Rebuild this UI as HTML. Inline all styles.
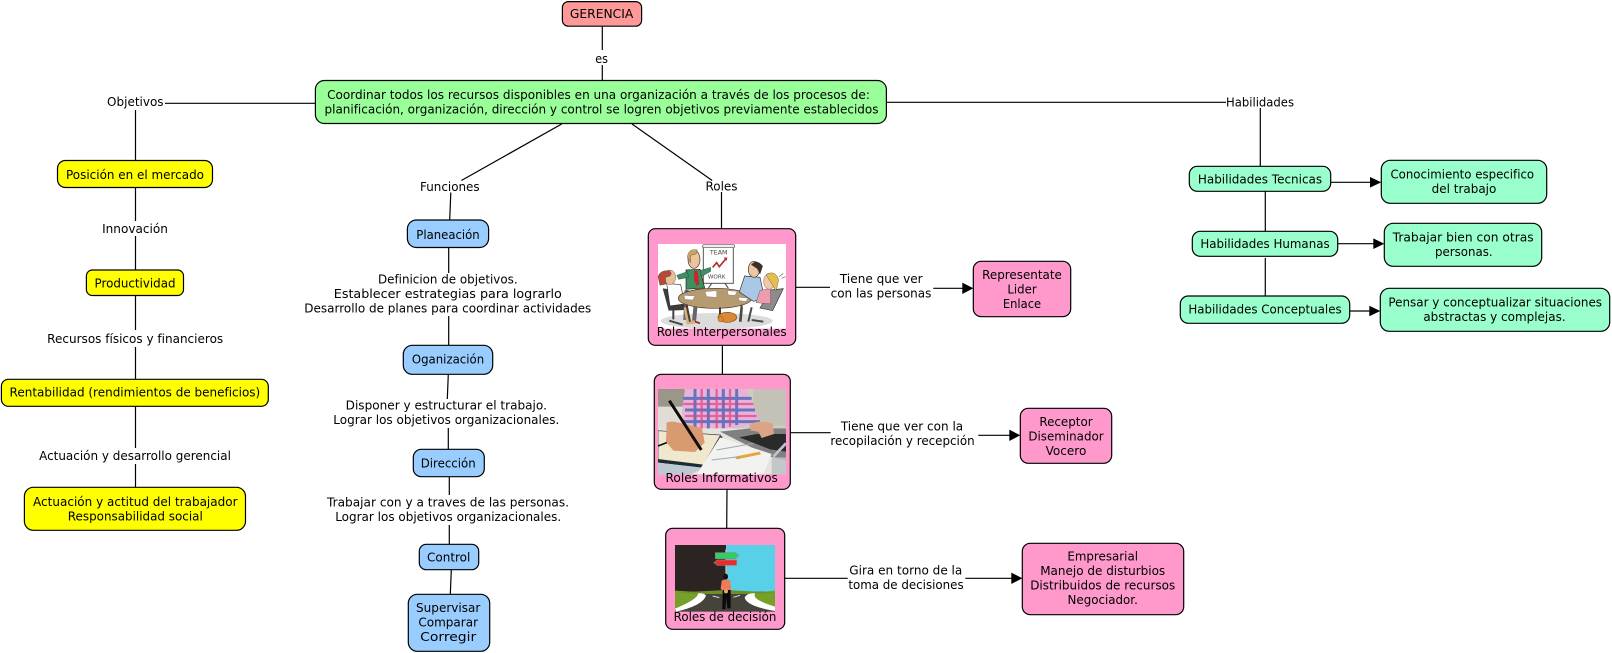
<!DOCTYPE html>
<html lang="es">
<head>
<meta charset="utf-8">
<title>Gerencia</title>
<style>
html,body{margin:0;padding:0;background:#fff;width:1612px;height:653px;overflow:hidden}
svg{display:block}
text{font-family:"DejaVu Sans","Liberation Sans",sans-serif;font-size:12px;fill:#000;text-anchor:middle}
.n{stroke:#000;stroke-width:1.2}
.l{stroke:#000;stroke-width:1.2;fill:none}
.h{fill:#000;stroke:none}
</style>
</head>
<body>
<svg width="1612" height="653" viewBox="0 0 1612 653" xmlns="http://www.w3.org/2000/svg">
<defs><filter id="b"><feGaussianBlur stdDeviation="0.9"/></filter></defs>
<rect width="1612" height="653" fill="#fff"/>

<!-- connectors -->
<g class="l">
<path d="M602.3 26V50M602.3 65V80.5"/>
<path d="M315.4 103.3H165M135.5 110V160.5M135.5 187.5V221M135.5 236V270M135.5 295.5V330M135.5 347V379.3M135.5 406.3V448M135.5 464V487.3"/>
<path d="M561.7 124L461.4 180.5M450.8 192.5L449.7 220M448.7 247.5V273M448.7 316V345.3M448.3 374.3L447.3 399M448.3 428V449.3M449.3 476.7V495M449.3 525V544.3M451.3 569.7L450.3 594.3"/>
<path d="M632 124L712.2 180.5M721.5 192V228.7M722.4 345.3V374.3M727 489.3L726.7 528.3"/>
<path d="M795.7 287.3H830M933.3 288.3H963M790.3 432.7H830.7M978.3 435.3H1010M784.7 578.3H847.7M965.3 578.3H1012"/>
<path d="M886.4 102.3H1226M1260.3 108V166.3M1265.3 191.3V231.3M1265.3 258V296M1330.7 182.3H1371M1337.7 243.7H1374M1349.7 311H1370"/>
</g>
<g class="h">
<path d="M962.3 282.6L973.3 288.3L962.3 294Z"/>
<path d="M1009.3 429.6L1020.3 435.3L1009.3 441Z"/>
<path d="M1011.3 572.6L1022.3 578.3L1011.3 584Z"/>
<path d="M1370 177L1381.3 182.3L1370 187.6Z"/>
<path d="M1373.3 238.4L1384.3 243.7L1373.3 249Z"/>
<path d="M1369.3 305.7L1380.3 311L1369.3 316.3Z"/>
</g>

<!-- nodes -->
<rect class="n" x="562.4" y="1.6" width="79.2" height="24.6" rx="6" fill="#ff9999"/>
<rect class="n" x="315.4" y="80.5" width="571" height="43" rx="9" fill="#99ff99"/>
<g fill="#ffff00">
<rect class="n" x="57.5" y="160.5" width="155" height="27" rx="8"/>
<rect class="n" x="86.4" y="270" width="97.1" height="25.5" rx="6"/>
<rect class="n" x="1.4" y="379.3" width="266.9" height="27" rx="7"/>
<rect class="n" x="24.4" y="487.3" width="221.1" height="43" rx="9"/>
</g>
<g fill="#99ccff">
<rect class="n" x="407.4" y="220" width="81.2" height="27.5" rx="9"/>
<rect class="n" x="403.3" y="345.3" width="89.4" height="29" rx="9"/>
<rect class="n" x="413.3" y="449.3" width="71" height="27.4" rx="8"/>
<rect class="n" x="419.3" y="544.3" width="59.4" height="25.4" rx="7"/>
<rect class="n" x="408.3" y="594.3" width="81.4" height="57" rx="9"/>
</g>
<g fill="#ff99cc">
<rect class="n" x="648.3" y="228.7" width="147.4" height="116.6" rx="7"/>
<rect class="n" x="654.3" y="374.3" width="136" height="115" rx="7"/>
<rect class="n" x="665.7" y="528.3" width="119" height="101" rx="7"/>
<rect class="n" x="973.3" y="261.3" width="97.4" height="55.4" rx="8"/>
<rect class="n" x="1020.3" y="408.3" width="91.4" height="55" rx="8"/>
<rect class="n" x="1022.3" y="543.3" width="161.4" height="71.4" rx="8"/>
</g>
<g fill="#99ffcc">
<rect class="n" x="1189.3" y="166.3" width="141.4" height="25" rx="8"/>
<rect class="n" x="1192.3" y="231.3" width="145.4" height="25" rx="8"/>
<rect class="n" x="1180.3" y="296" width="169.4" height="27.3" rx="8"/>
<rect class="n" x="1381.3" y="160.3" width="165.4" height="43" rx="9"/>
<rect class="n" x="1384.3" y="223.3" width="157.4" height="43" rx="9"/>
<rect class="n" x="1380.3" y="288.3" width="229.4" height="43" rx="9"/>
</g>

<!-- image 1: team meeting -->
<g transform="translate(620 220) scale(.3333)">
<rect x="114" y="72" width="384" height="254" fill="#fff"/>
<g>
<ellipse cx="290" cy="303" rx="168" ry="24" fill="#dcdcdc"/>
<rect x="250" y="82" width="90" height="108" fill="#fff" stroke="#555" stroke-width="3"/>
<rect x="248" y="74" width="96" height="9" rx="4" fill="#eee" stroke="#555" stroke-width="2"/>
<path d="M275 190L265 205M315 190L325 205" stroke="#444" stroke-width="3"/>
<path d="M278 142L290 128L298 140L318 116" stroke="#b03030" stroke-width="5" fill="none"/>
<path d="M311 113L322 112L320 123Z" fill="#b03030"/>
<text x="296" y="104" style="font-size:19px;fill:#444">TEAM</text>
<text x="290" y="175" style="font-size:17px;fill:#444">WORK</text>
<!-- presenter -->
<path d="M198 150L240 148L254 204L198 208Z" fill="#3f9060" stroke="#222" stroke-width="2"/>
<path d="M222 152L233 152L238 192L230 198L222 180Z" fill="#c02a30"/>
<path d="M240 152L272 142L272 154L244 170Z" fill="#3f9060" stroke="#222"/>
<path d="M202 155L170 166L176 178L206 172Z" fill="#3f9060" stroke="#222"/>
<ellipse cx="222" cy="118" rx="18" ry="27" fill="#eec49a" stroke="#333" stroke-width="2"/>
<path d="M202 112Q205 84 232 90L228 102L212 106L212 128Z" fill="#c9a560" stroke="#333"/>
<path d="M200 210L196 300M232 205L222 305" stroke="#666" stroke-width="12"/>
<path d="M222 304L240 310" stroke="#a02020" stroke-width="5"/>
<!-- woman left -->
<path d="M128 205L180 212L196 270L146 272Z" fill="#3c3c3c"/>
<path d="M140 190L182 194L194 252L150 258Z" fill="#fff" stroke="#333" stroke-width="2"/>
<ellipse cx="150" cy="172" rx="17" ry="22" fill="#e9bd95" stroke="#333"/>
<path d="M114 170Q120 150 148 152Q158 160 150 168L136 172L138 192L120 196Z" fill="#b8483a" stroke="#333"/>
<path d="M160 270L160 298M148 302L188 314" stroke="#444" stroke-width="6"/>
<path d="M196 262L204 308L225 306" stroke="#d8b080" stroke-width="10" fill="none"/>
<!-- table -->
<ellipse cx="285" cy="235" rx="110" ry="30" fill="#b79b70" stroke="#4a3a28" stroke-width="2"/>
<path d="M200 255L210 305M365 255L360 305M300 262L300 290" stroke="#4a3a28" stroke-width="6"/>
<path d="M192 226L225 228L218 240L195 238ZM255 215L290 212L290 232L260 230ZM322 212L352 214L345 226L325 225ZM355 232L384 234L378 244L358 242Z" fill="#fff" stroke="#666"/>
<!-- man right -->
<path d="M374 168L420 172L434 236L400 244L358 216Z" fill="#a8c8e6" stroke="#333" stroke-width="2"/>
<ellipse cx="402" cy="148" rx="17" ry="24" fill="#edc6a2" stroke="#333" stroke-width="2"/>
<path d="M394 134Q410 116 428 138L420 162L412 146Z" fill="#3a3028" stroke="#222"/>
<!-- woman right -->
<path d="M452 210L490 206L458 272L420 264Z" fill="#8c8c8c" stroke="#333" stroke-width="2"/>
<path d="M420 212L452 204L452 252L408 248Z" fill="#ee9bb0" stroke="#333"/>
<ellipse cx="448" cy="184" rx="17" ry="24" fill="#efc9a8" stroke="#333"/>
<path d="M438 164Q466 148 476 180L468 214L456 192Z" fill="#e3bf4e" stroke="#333"/>
<path d="M366 262L362 305M395 262L385 305M395 300L430 305" stroke="#4a4a4a" stroke-width="6"/>
<path d="M478 170L490 160M485 175L497 170" stroke="#666" stroke-width="2"/>
<!-- cat -->
<ellipse cx="322" cy="292" rx="28" ry="15" fill="#d98a34" stroke="#7a3f10" stroke-width="2"/>
<circle cx="302" cy="298" r="8" fill="#d98a34" stroke="#7a3f10"/>
</g>
</g>

<!-- image 2: laptop and notes -->
<g transform="translate(640 360) scale(.3333)">
<svg x="54" y="87" width="384" height="256" viewBox="54 87 384 256">
<g filter="url(#b)">
<rect x="54" y="87" width="384" height="256" fill="#cfccc2"/>
<rect x="54" y="87" width="80" height="60" fill="#9a968a"/>
<rect x="54" y="140" width="90" height="70" fill="#dfddd4"/>
<rect x="340" y="87" width="98" height="110" fill="#c4c1b6"/>
<path d="M135 87H320L360 185L250 215H140L125 160Z" fill="#e6b4d6"/>
<g stroke="#4a64b8" stroke-width="9" opacity=".8">
<path d="M165 87V205M205 87V210M250 87V205M290 87V195M130 115H335M135 150H345M130 185H360"/>
</g>
<g stroke="#e04088" stroke-width="7" opacity=".7">
<path d="M185 87V210M230 87V210M270 87V200M130 132H340M135 168H350"/>
</g>
<path d="M54 205H438V343H54Z" fill="#e4e3dd"/>
<path d="M54 212L242 225L190 315L54 298Z" fill="#efe8cc" stroke="#333" stroke-width="2"/>
<path d="M54 298L190 315L240 228L248 230L195 324L54 308Z" fill="#1f2a34"/>
<path d="M54 308L195 324L150 343H54Z" fill="#bcc8d2"/>
<path d="M54 258L88 245" stroke="#111" stroke-width="5"/>
<path d="M80 188Q95 180 132 192L186 204L194 248L165 276L100 272L78 245Z" fill="#d99a72"/>
<path d="M88 122L184 270" stroke="#111" stroke-width="9"/>
<path d="M240 215L330 205L438 205V300L390 290Z" fill="#808080"/>
<path d="M298 232L350 222L438 222V275L390 268Z" fill="#2c2c2c"/>
<path d="M240 232L395 282L370 343H170Z" fill="#f2f2f0"/>
<path d="M285 290L360 275L362 283L290 298Z" fill="#e6a63a"/>
<path d="M230 270L340 250M215 300L300 290" stroke="#98a8bc" stroke-width="3"/>
<path d="M328 195Q350 178 398 190L402 222L365 234L355 215L333 212Z" fill="#dba585"/>
<path d="M400 290L438 250" stroke="#bcc4cc" stroke-width="8"/>
<path d="M395 292H438V343H395Z" fill="#bcbfc2" opacity=".8"/>
</g>
</svg>
</g>

<!-- image 3: crossroads -->
<g transform="translate(640 510) scale(.3333)">
<rect x="105" y="105" width="153" height="142" fill="#2b2422"/>
<rect x="258" y="105" width="147" height="142" fill="#58d0e8"/>
<rect x="105" y="245" width="300" height="60" fill="#45433a"/>
<path d="M105 242L200 248L150 285L105 298Z" fill="#77a028"/>
<path d="M405 242L320 250L360 282L405 296Z" fill="#77a028"/>
<path d="M105 248L258 240L405 248L340 252H180Z" fill="#6d8f2a"/>
<path d="M108 305Q190 286 198 256Q190 248 174 250Q176 266 105 296Z" fill="#fff"/>
<path d="M405 303Q318 288 314 262Q322 248 346 250Q332 268 405 290Z" fill="#fff"/>
<path d="M218 258L238 263M280 262L300 256" stroke="#ddd" stroke-width="3"/>
<rect x="256" y="118" width="5" height="90" fill="#bbb"/>
<path d="M226 128H286L296 137L286 146H226Z" fill="#2fd060" stroke="#888" stroke-width="2"/>
<path d="M232 150H290V166H232L222 158Z" fill="#ee2a2a" stroke="#888" stroke-width="2"/>
<ellipse cx="257" cy="200" rx="7" ry="9" fill="#111"/>
<path d="M245 212Q257 204 270 212L274 240L262 246H250L242 236Z" fill="#ef7a5c"/>
<path d="M248 240H272L272 295H262L259 262L256 298H247Z" fill="#0a0a0a"/>
<circle cx="258" cy="244" r="6" fill="#e8a878"/>
</g>

<!-- labels -->
<text x="601.6" y="18" textLength="63.4" lengthAdjust="spacingAndGlyphs">GERENCIA</text>
<text x="601.6" y="63" textLength="12.7" lengthAdjust="spacingAndGlyphs">es</text>
<text x="598.5" y="99" textLength="542.8" lengthAdjust="spacingAndGlyphs">Coordinar todos los recursos disponibles en una organización a través de los procesos de:</text>
<text x="601.5" y="113.5" textLength="554" lengthAdjust="spacingAndGlyphs">planificación, organización, dirección y control se logren objetivos previamente establecidos</text>

<text x="135.3" y="106" textLength="56.5" lengthAdjust="spacingAndGlyphs">Objetivos</text>
<text x="135" y="179" textLength="138" lengthAdjust="spacingAndGlyphs">Posición en el mercado</text>
<text x="135" y="233" textLength="65.8" lengthAdjust="spacingAndGlyphs">Innovación</text>
<text x="135" y="287.5" textLength="81" lengthAdjust="spacingAndGlyphs">Productividad</text>
<text x="135.2" y="343" textLength="176" lengthAdjust="spacingAndGlyphs">Recursos físicos y financieros</text>
<text x="134.9" y="396.5" textLength="250.7" lengthAdjust="spacingAndGlyphs">Rentabilidad (rendimientos de beneficios)</text>
<text x="135" y="460" textLength="191.8" lengthAdjust="spacingAndGlyphs">Actuación y desarrollo gerencial</text>
<text x="135.3" y="506" textLength="204.5" lengthAdjust="spacingAndGlyphs">Actuación y actitud del trabajador</text>
<text x="135.3" y="520.5" textLength="135" lengthAdjust="spacingAndGlyphs">Responsabilidad social</text>

<text x="449.8" y="191" textLength="59.6" lengthAdjust="spacingAndGlyphs">Funciones</text>
<text x="448" y="239" textLength="63.4" lengthAdjust="spacingAndGlyphs">Planeación</text>
<text x="447.8" y="283.5" textLength="139.6" lengthAdjust="spacingAndGlyphs">Definicion de objetivos.</text>
<text x="447.8" y="298" textLength="228" lengthAdjust="spacingAndGlyphs">Establecer estrategias para lograrlo</text>
<text x="447.8" y="312.5" textLength="287" lengthAdjust="spacingAndGlyphs">Desarrollo de planes para coordinar actividades</text>
<text x="448" y="363.5" textLength="72.3" lengthAdjust="spacingAndGlyphs">Oganización</text>
<text x="446.3" y="409.5" textLength="201.3" lengthAdjust="spacingAndGlyphs">Disponer y estructurar el trabajo.</text>
<text x="446.3" y="424" textLength="226" lengthAdjust="spacingAndGlyphs">Lograr los objetivos organizacionales.</text>
<text x="448.2" y="467.5" textLength="55" lengthAdjust="spacingAndGlyphs">Dirección</text>
<text x="448" y="506.5" textLength="242" lengthAdjust="spacingAndGlyphs">Trabajar con y a traves de las personas.</text>
<text x="448.2" y="521" textLength="226" lengthAdjust="spacingAndGlyphs">Lograr los objetivos organizacionales.</text>
<text x="448.7" y="561.5" textLength="43.3" lengthAdjust="spacingAndGlyphs">Control</text>
<text x="448.2" y="612" textLength="64.3" lengthAdjust="spacingAndGlyphs">Supervisar</text>
<text x="448.2" y="626.5" textLength="59.7" lengthAdjust="spacingAndGlyphs">Comparar</text>
<text x="448.2" y="641" textLength="56" lengthAdjust="spacingAndGlyphs">Corregir</text>

<text x="721.5" y="190.5" textLength="32" lengthAdjust="spacingAndGlyphs">Roles</text>
<text x="721.7" y="336" textLength="130" lengthAdjust="spacingAndGlyphs">Roles Interpersonales</text>
<text x="721.7" y="482" textLength="112.3" lengthAdjust="spacingAndGlyphs">Roles Informativos</text>
<text x="725" y="621" textLength="102.7" lengthAdjust="spacingAndGlyphs">Roles de decisión</text>

<text x="881.3" y="283" textLength="82.7" lengthAdjust="spacingAndGlyphs">Tiene que ver</text>
<text x="881" y="297.5" textLength="100.7" lengthAdjust="spacingAndGlyphs">con las personas</text>
<text x="902" y="430.5" textLength="122.3" lengthAdjust="spacingAndGlyphs">Tiene que ver con la</text>
<text x="902.5" y="445" textLength="144.3" lengthAdjust="spacingAndGlyphs">recopilación y recepción</text>
<text x="905.8" y="574.5" textLength="113" lengthAdjust="spacingAndGlyphs">Gira en torno de la</text>
<text x="906" y="589" textLength="115.3" lengthAdjust="spacingAndGlyphs">toma de decisiones</text>

<text x="1022" y="279" textLength="79.7" lengthAdjust="spacingAndGlyphs">Representate</text>
<text x="1022" y="293.5" textLength="29.3" lengthAdjust="spacingAndGlyphs">Lider</text>
<text x="1022" y="308" textLength="38.3" lengthAdjust="spacingAndGlyphs">Enlace</text>
<text x="1066" y="426" textLength="53.3" lengthAdjust="spacingAndGlyphs">Receptor</text>
<text x="1066" y="440.5" textLength="75.3" lengthAdjust="spacingAndGlyphs">Diseminador</text>
<text x="1066" y="455" textLength="40.7" lengthAdjust="spacingAndGlyphs">Vocero</text>
<text x="1102.7" y="560.5" textLength="70.7" lengthAdjust="spacingAndGlyphs">Empresarial</text>
<text x="1102.7" y="575" textLength="125" lengthAdjust="spacingAndGlyphs">Manejo de disturbios</text>
<text x="1102.7" y="589.5" textLength="145" lengthAdjust="spacingAndGlyphs">Distribuidos de recursos</text>
<text x="1102.7" y="604" textLength="70.3" lengthAdjust="spacingAndGlyphs">Negociador.</text>

<text x="1260" y="106.5" textLength="68" lengthAdjust="spacingAndGlyphs">Habilidades</text>
<text x="1260" y="183.5" textLength="124.3" lengthAdjust="spacingAndGlyphs">Habilidades Tecnicas</text>
<text x="1265" y="248" textLength="129.3" lengthAdjust="spacingAndGlyphs">Habilidades Humanas</text>
<text x="1265" y="313.5" textLength="153.3" lengthAdjust="spacingAndGlyphs">Habilidades Conceptuales</text>
<text x="1462.3" y="178.5" textLength="143.7" lengthAdjust="spacingAndGlyphs">Conocimiento especifico</text>
<text x="1464" y="193" textLength="64.7" lengthAdjust="spacingAndGlyphs">del trabajo</text>
<text x="1463.2" y="241.5" textLength="141" lengthAdjust="spacingAndGlyphs">Trabajar bien con otras</text>
<text x="1463.8" y="256" textLength="57.7" lengthAdjust="spacingAndGlyphs">personas.</text>
<text x="1495.2" y="306.5" textLength="213.7" lengthAdjust="spacingAndGlyphs">Pensar y conceptualizar situaciones</text>
<text x="1494.5" y="321" textLength="142.3" lengthAdjust="spacingAndGlyphs">abstractas y complejas.</text>
</svg>
</body>
</html>
